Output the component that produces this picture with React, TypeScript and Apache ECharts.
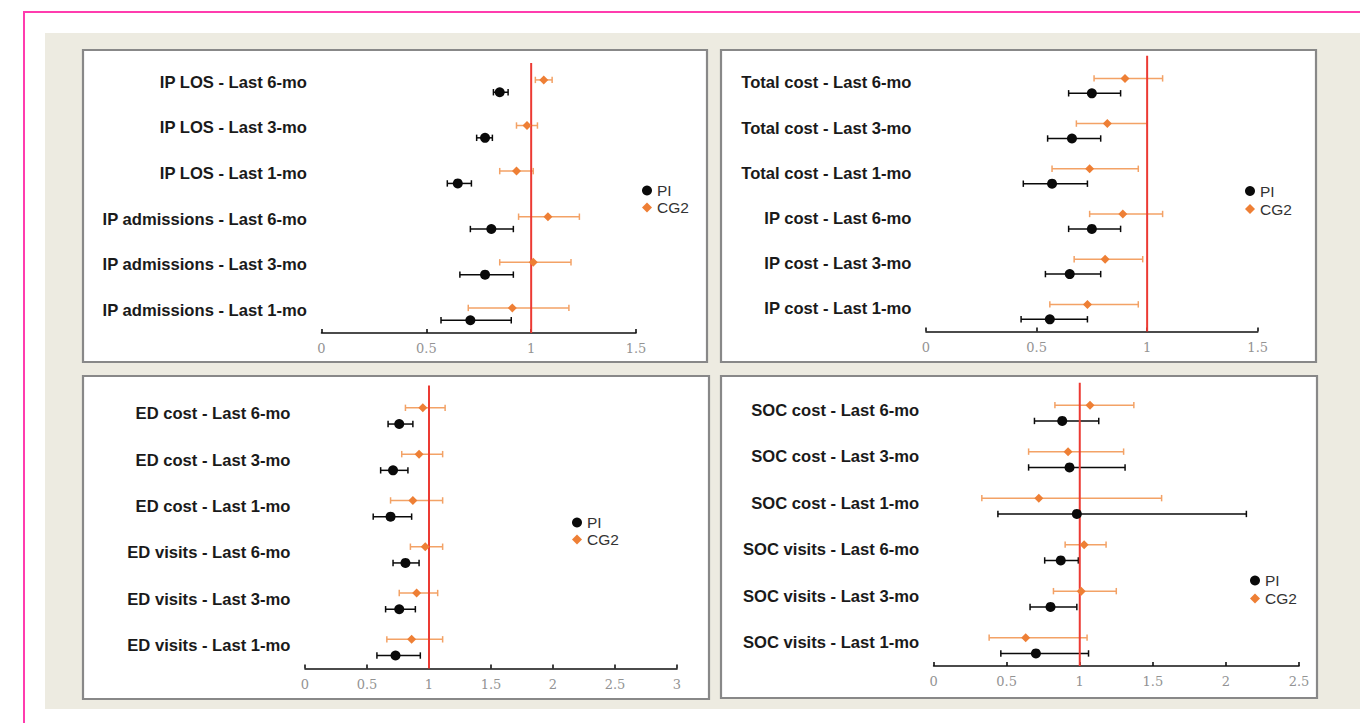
import React, { useEffect, useRef } from "react";
import * as echarts from "echarts";

// ---------- DATA (rows listed top -> bottom as in the picture) ----------
const p1Labels = [
  "IP LOS - Last 6-mo",
  "IP LOS - Last 3-mo",
  "IP LOS - Last 1-mo",
  "IP admissions - Last 6-mo",
  "IP admissions - Last 3-mo",
  "IP admissions - Last 1-mo",
];
const p1PiEst = [0.85, 0.78, 0.65, 0.81, 0.78, 0.71];
const p1PiLo = [0.82, 0.74, 0.6, 0.71, 0.66, 0.57];
const p1PiHi = [0.89, 0.815, 0.715, 0.915, 0.915, 0.905];
const p1CgEst = [1.06, 0.98, 0.93, 1.08, 1.01, 0.91];
const p1CgLo = [1.02, 0.93, 0.85, 0.94, 0.85, 0.7];
const p1CgHi = [1.1, 1.03, 1.01, 1.23, 1.19, 1.18];

const p2Labels = [
  "Total cost - Last 6-mo",
  "Total cost - Last 3-mo",
  "Total cost - Last 1-mo",
  "IP cost - Last 6-mo",
  "IP cost - Last 3-mo",
  "IP cost - Last 1-mo",
];
const p2PiEst = [0.75, 0.66, 0.57, 0.75, 0.65, 0.56];
const p2PiLo = [0.645, 0.55, 0.44, 0.645, 0.54, 0.43];
const p2PiHi = [0.88, 0.79, 0.73, 0.88, 0.79, 0.73];
const p2CgEst = [0.9, 0.82, 0.74, 0.89, 0.81, 0.73];
const p2CgLo = [0.76, 0.68, 0.57, 0.74, 0.67, 0.56];
const p2CgHi = [1.07, 1.0, 0.96, 1.07, 0.98, 0.96];

const p3Labels = [
  "ED cost - Last 6-mo",
  "ED cost - Last 3-mo",
  "ED cost - Last 1-mo",
  "ED visits - Last 6-mo",
  "ED visits - Last 3-mo",
  "ED visits - Last 1-mo",
];
const p3PiEst = [0.76, 0.71, 0.69, 0.81, 0.76, 0.73];
const p3PiLo = [0.67, 0.61, 0.55, 0.71, 0.65, 0.58];
const p3PiHi = [0.87, 0.83, 0.86, 0.92, 0.89, 0.93];
const p3CgEst = [0.95, 0.92, 0.87, 0.97, 0.9, 0.86];
const p3CgLo = [0.81, 0.78, 0.69, 0.85, 0.76, 0.66];
const p3CgHi = [1.13, 1.11, 1.11, 1.11, 1.07, 1.11];

const p4Labels = [
  "SOC cost - Last 6-mo",
  "SOC cost - Last 3-mo",
  "SOC cost - Last 1-mo",
  "SOC visits - Last 6-mo",
  "SOC visits - Last 3-mo",
  "SOC visits - Last 1-mo",
];
const p4PiEst = [0.88, 0.93, 0.98, 0.87, 0.8, 0.7];
const p4PiLo = [0.69, 0.65, 0.44, 0.76, 0.66, 0.46];
const p4PiHi = [1.13, 1.31, 2.14, 0.99, 0.98, 1.06];
const p4CgEst = [1.07, 0.92, 0.72, 1.03, 1.01, 0.63];
const p4CgLo = [0.83, 0.65, 0.33, 0.9, 0.82, 0.38];
const p4CgHi = [1.37, 1.3, 1.56, 1.18, 1.25, 1.05];

const p1AxisMax = 1.5;
const p2AxisMax = 1.5;
const p3AxisMax = 3;
const p4AxisMax = 2.5;
const referenceValue = 1;

// ---------- LAYOUT ----------
const panels = [
  {
    labels: p1Labels, piEst: p1PiEst, piLo: p1PiLo, piHi: p1PiHi,
    cgEst: p1CgEst, cgLo: p1CgLo, cgHi: p1CgHi, max: p1AxisMax,
    grid: { left: 321.5, top: 59.4, width: 314.5, height: 273.6 },
    box: { x: 83, y: 50, w: 624, h: 312 },
    cgOff: 0.05, piOff: -0.22, refTop: 5.42,
    legend: { left: 642, top: 182, gap: 0 },
  },
  {
    labels: p2Labels, piEst: p2PiEst, piLo: p2PiLo, piHi: p2PiHi,
    cgEst: p2CgEst, cgLo: p2CgLo, cgHi: p2CgHi, max: p2AxisMax,
    grid: { left: 926, top: 60.3, width: 331.7, height: 271.2 },
    box: { x: 721, y: 50, w: 595, h: 312 },
    cgOff: 0.1, piOff: -0.23, refTop: 5.6,
    legend: { left: 1245, top: 182.5, gap: 1 },
  },
  {
    labels: p3Labels, piEst: p3PiEst, piLo: p3PiLo, piHi: p3PiHi,
    cgEst: p3CgEst, cgLo: p3CgLo, cgHi: p3CgHi, max: p3AxisMax,
    grid: { left: 305, top: 390.7, width: 372, height: 277.8 },
    box: { x: 83, y: 376, w: 626, h: 323 },
    cgOff: 0.13, piOff: -0.22, refTop: 5.61,
    legend: { left: 572, top: 514, gap: 0 },
  },
  {
    labels: p4Labels, piEst: p4PiEst, piLo: p4PiLo, piHi: p4PiHi,
    cgEst: p4CgEst, cgLo: p4CgLo, cgHi: p4CgHi, max: p4AxisMax,
    grid: { left: 933.6, top: 387, width: 365.4, height: 279 },
    box: { x: 721, y: 376, w: 596, h: 322 },
    cgOff: 0.11, piOff: -0.23, refTop: 5.59,
    legend: { left: 1250, top: 572, gap: 1 },
  },
];

const PI_COLOR = "#0a0a0a";
const CG_COLOR = "#ee7f35";
const CG_BAR = "#f3a266";
const RED = "#ec3a33";

function errorBarRender(color: string) {
  return (params: any, api: any) => {
    const y = api.value(2);
    const a = api.coord([api.value(0), y]);
    const b = api.coord([api.value(1), y]);
    const h = 3.2;
    const style = { stroke: color, lineWidth: 1.5, fill: "none" };
    return {
      type: "group",
      children: [
        { type: "line", shape: { x1: a[0], y1: a[1], x2: b[0], y2: b[1] }, style },
        { type: "line", shape: { x1: a[0], y1: a[1] - h, x2: a[0], y2: a[1] + h }, style },
        { type: "line", shape: { x1: b[0], y1: b[1] - h, x2: b[0], y2: b[1] + h }, style },
      ],
    };
  };
}

function buildOption() {
  const grid: any[] = [];
  const xAxis: any[] = [];
  const yAxis: any[] = [];
  const series: any[] = [];
  const legend: any[] = [];
  const graphic: any[] = [];

  graphic.push({
    type: "rect",
    z: -30,
    shape: { x: 24, y: 12, width: 1400, height: 800 },
    style: { fill: "none", stroke: "#ff3cae", lineWidth: 2 },
  });
  graphic.push({
    type: "rect",
    z: -20,
    shape: { x: 45, y: 33, width: 1315, height: 676 },
    style: { fill: "#edebe1", stroke: "none" },
  });

  panels.forEach((p, i) => {
    const n = p.labels.length;
    graphic.push({
      type: "rect",
      z: -10,
      shape: { x: p.box.x, y: p.box.y, width: p.box.w, height: p.box.h },
      style: { fill: "#ffffff", stroke: "#888888", lineWidth: 2.2 },
    });

    grid.push({ ...p.grid, outerBoundsMode: "none", containLabel: false });

    xAxis.push({
      type: "value",
      gridIndex: i,
      z: 3,
      min: 0,
      max: p.max,
      interval: 0.5,
      splitLine: { show: false },
      axisLine: { show: true, onZero: false, lineStyle: { color: "#111", width: 1.6 } },
      axisTick: { show: true, inside: true, length: 4, lineStyle: { color: "#111", width: 1.6 } },
      axisLabel: {
        color: "#939393",
        fontFamily: "DejaVu Serif",
        fontSize: 13,
        margin: 9,
      },
    });

    // category axis for row labels (bottom -> top)
    yAxis.push({
      type: "category",
      gridIndex: i,
      z: 3,
      data: p.labels.slice().reverse(),
      axisLine: { show: false },
      axisTick: { show: false },
      splitLine: { show: false },
      axisLabel: {
        color: "#1a1a1a",
        fontFamily: "Liberation Sans",
        fontWeight: "bold",
        fontSize: 16.6,
        margin: 14.5,
      },
    });
    // hidden value axis for precise vertical placement
    yAxis.push({
      type: "value",
      gridIndex: i,
      min: -0.5,
      max: n - 0.5,
      show: false,
      splitLine: { show: false },
    });

    const rowOf = (k: number) => n - 1 - k;
    const piBars = p.labels.map((_, k) => [p.piLo[k], p.piHi[k], rowOf(k) + p.piOff]);
    const cgBars = p.labels.map((_, k) => [p.cgLo[k], p.cgHi[k], rowOf(k) + p.cgOff]);
    const piPts = p.labels.map((_, k) => [p.piEst[k], rowOf(k) + p.piOff]);
    const cgPts = p.labels.map((_, k) => [p.cgEst[k], rowOf(k) + p.cgOff]);

    series.push({
      type: "custom",
      name: "PI-ci-" + i,
      xAxisIndex: i,
      yAxisIndex: 2 * i + 1,
      z: 4,
      renderItem: errorBarRender(PI_COLOR),
      encode: { x: [0, 1], y: 2 },
      data: piBars,
      silent: true,
    });
    series.push({
      type: "custom",
      name: "CG2-ci-" + i,
      xAxisIndex: i,
      yAxisIndex: 2 * i + 1,
      z: 4,
      renderItem: errorBarRender(CG_BAR),
      encode: { x: [0, 1], y: 2 },
      data: cgBars,
      silent: true,
    });
    series.push({
      type: "custom",
      name: "ref-" + i,
      xAxisIndex: i,
      yAxisIndex: 2 * i + 1,
      z: 5,
      clip: false,
      renderItem: (params: any, api: any) => {
        const a = api.coord([api.value(0), api.value(1)]);
        const b = api.coord([api.value(0), api.value(2)]);
        return {
          type: "line",
          shape: { x1: a[0], y1: a[1], x2: b[0], y2: b[1] },
          style: { stroke: RED, lineWidth: 2 },
        };
      },
      encode: { x: 0, y: [1, 2] },
      data: [[referenceValue, -0.5, p.refTop]],
      silent: true,
    });
    series.push({
      type: "scatter",
      name: "PI",
      xAxisIndex: i,
      yAxisIndex: 2 * i + 1,
      z: 6,
      symbol: "circle",
      symbolSize: 10,
      itemStyle: { color: PI_COLOR, opacity: 1 },
      data: piPts,
      silent: true,
    });
    series.push({
      type: "scatter",
      name: "CG2",
      xAxisIndex: i,
      yAxisIndex: 2 * i + 1,
      z: 6,
      symbol: "diamond",
      symbolSize: 9,
      itemStyle: { color: CG_COLOR, opacity: 1 },
      data: cgPts,
      silent: true,
    });

    legend.push({
      left: p.legend.left,
      top: p.legend.top,
      orient: "vertical",
      padding: 0,
      itemWidth: 10,
      itemHeight: 10,
      itemGap: p.legend.gap,
      selectedMode: false,
      textStyle: {
        fontFamily: "Liberation Sans",
        fontSize: 15.5,
        color: "#333",
        lineHeight: 17,
      },
      data: [
        { name: "PI", icon: "circle" },
        { name: "CG2", icon: "diamond" },
      ],
    });
  });

  return {
    animation: false,
    backgroundColor: "#ffffff",
    graphic: { elements: graphic },
    grid,
    xAxis,
    yAxis,
    legend,
    series,
  };
}

export default function App() {
  const ref = useRef<HTMLDivElement>(null);
  useEffect(() => {
    if (!ref.current) return;
    const chart = echarts.init(ref.current, undefined, { renderer: "svg" });
    chart.setOption(buildOption() as any);
    return () => chart.dispose();
  }, []);
  return (
    <div
      ref={ref}
      style={{ position: "absolute", left: 0, top: 0, width: 1360, height: 723 }}
    />
  );
}
